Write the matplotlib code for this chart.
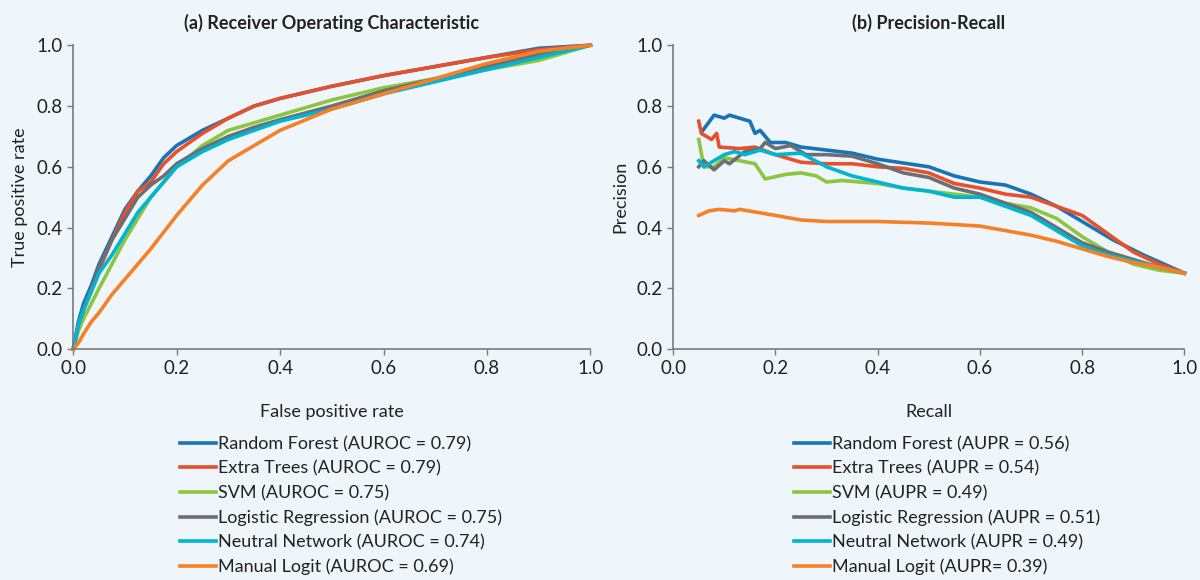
import matplotlib.pyplot as plt

plt.rcParams['font.family'] = ['Lato', 'DejaVu Sans']

BG = '#eef5fb'
AXIS = '#7a7a7a'

names = ['Random Forest', 'Extra Trees', 'SVM', 'Logistic Regression',
         'Neutral Network', 'Manual Logit']
colors = ['#1a73b5', '#e8502b', '#8cc63f', '#6d6e71', '#00b5d1', '#f58025']
auroc = ['0.79', '0.79', '0.75', '0.75', '0.74', '0.69']
aupr = ['0.56', '0.54', '0.49', '0.51', '0.49', '0.39']

# ROC curves (false positive rate grid, true positive rate per model)
fpr = [0.0, 0.01, 0.02, 0.035, 0.05, 0.075, 0.1, 0.125, 0.15, 0.175, 0.2, 0.25, 0.3, 0.35, 0.4, 0.5, 0.6, 0.7, 0.8, 0.9, 1.0]
tpr_rf = [0.0, 0.09, 0.15, 0.21, 0.28, 0.37, 0.46, 0.52, 0.57, 0.63, 0.67, 0.72, 0.76, 0.80, 0.825, 0.865, 0.90, 0.93, 0.96, 0.99, 1.0]
tpr_et = [0.0, 0.07, 0.13, 0.19, 0.26, 0.36, 0.45, 0.52, 0.55, 0.61, 0.65, 0.71, 0.76, 0.80, 0.825, 0.865, 0.90, 0.93, 0.96, 0.985, 1.0]
tpr_svm = [0.0, 0.06, 0.10, 0.15, 0.20, 0.28, 0.36, 0.43, 0.50, 0.55, 0.60, 0.67, 0.72, 0.745, 0.77, 0.82, 0.86, 0.89, 0.92, 0.95, 1.0]
tpr_lr = [0.0, 0.08, 0.13, 0.20, 0.27, 0.36, 0.43, 0.50, 0.54, 0.57, 0.61, 0.66, 0.70, 0.73, 0.755, 0.80, 0.85, 0.89, 0.93, 0.97, 1.0]
tpr_nn = [0.0, 0.08, 0.13, 0.19, 0.25, 0.31, 0.38, 0.45, 0.50, 0.55, 0.60, 0.65, 0.69, 0.72, 0.75, 0.79, 0.84, 0.88, 0.92, 0.96, 1.0]
tpr_ml = [0.0, 0.02, 0.05, 0.09, 0.12, 0.18, 0.23, 0.28, 0.33, 0.385, 0.44, 0.54, 0.62, 0.67, 0.72, 0.79, 0.84, 0.89, 0.94, 0.98, 1.0]

# Precision-recall curves (recall, precision per model)
rec_rf = [0.058, 0.08, 0.10, 0.11, 0.15, 0.16, 0.17, 0.19, 0.22, 0.25, 0.30, 0.35, 0.40, 0.50, 0.55, 0.60, 0.65, 0.70, 0.75, 0.80, 0.86, 0.92, 0.96, 1.0]
pre_rf = [0.72, 0.77, 0.76, 0.77, 0.75, 0.71, 0.72, 0.68, 0.68, 0.665, 0.655, 0.645, 0.625, 0.60, 0.57, 0.55, 0.54, 0.51, 0.47, 0.42, 0.36, 0.31, 0.28, 0.25]
rec_et = [0.05, 0.055, 0.075, 0.085, 0.09, 0.13, 0.16, 0.20, 0.25, 0.30, 0.35, 0.40, 0.45, 0.50, 0.55, 0.60, 0.65, 0.70, 0.75, 0.80, 0.85, 0.90, 0.95, 1.0]
pre_et = [0.75, 0.71, 0.69, 0.71, 0.665, 0.66, 0.665, 0.64, 0.615, 0.61, 0.61, 0.60, 0.595, 0.58, 0.545, 0.53, 0.51, 0.50, 0.47, 0.44, 0.38, 0.32, 0.28, 0.25]
rec_svm = [0.05, 0.06, 0.08, 0.10, 0.13, 0.16, 0.18, 0.22, 0.25, 0.28, 0.30, 0.33, 0.40, 0.45, 0.50, 0.55, 0.60, 0.65, 0.70, 0.75, 0.80, 0.85, 0.90, 0.95, 1.0]
pre_svm = [0.69, 0.60, 0.60, 0.63, 0.62, 0.61, 0.56, 0.575, 0.58, 0.57, 0.55, 0.555, 0.545, 0.53, 0.52, 0.51, 0.50, 0.48, 0.465, 0.43, 0.37, 0.32, 0.28, 0.26, 0.25]
rec_lr = [0.05, 0.06, 0.08, 0.10, 0.11, 0.14, 0.17, 0.18, 0.20, 0.23, 0.26, 0.30, 0.35, 0.40, 0.45, 0.50, 0.55, 0.60, 0.65, 0.70, 0.75, 0.80, 0.85, 0.90, 0.95, 1.0]
pre_lr = [0.60, 0.62, 0.59, 0.62, 0.61, 0.65, 0.66, 0.68, 0.66, 0.67, 0.64, 0.64, 0.635, 0.61, 0.58, 0.565, 0.53, 0.51, 0.48, 0.45, 0.40, 0.35, 0.32, 0.295, 0.27, 0.25]
rec_nn = [0.05, 0.06, 0.08, 0.10, 0.12, 0.14, 0.17, 0.20, 0.25, 0.30, 0.35, 0.40, 0.45, 0.50, 0.55, 0.60, 0.65, 0.70, 0.75, 0.80, 0.85, 0.90, 0.95, 1.0]
pre_nn = [0.62, 0.60, 0.62, 0.64, 0.65, 0.64, 0.655, 0.64, 0.645, 0.60, 0.57, 0.55, 0.53, 0.52, 0.50, 0.50, 0.47, 0.44, 0.39, 0.34, 0.31, 0.29, 0.27, 0.25]
rec_ml = [0.05, 0.07, 0.09, 0.12, 0.13, 0.20, 0.25, 0.30, 0.40, 0.50, 0.60, 0.65, 0.70, 0.75, 0.80, 0.85, 0.90, 0.95, 1.0]
pre_ml = [0.44, 0.455, 0.46, 0.455, 0.46, 0.44, 0.425, 0.42, 0.42, 0.415, 0.405, 0.39, 0.375, 0.355, 0.33, 0.305, 0.285, 0.27, 0.25]

tprs = [tpr_rf, tpr_et, tpr_svm, tpr_lr, tpr_nn, tpr_ml]
recs = [rec_rf, rec_et, rec_svm, rec_lr, rec_nn, rec_ml]
pres = [pre_rf, pre_et, pre_svm, pre_lr, pre_nn, pre_ml]

fig = plt.figure(figsize=(12, 5.8), dpi=100, facecolor=BG)
ax1 = fig.add_axes([0.061, 0.398, 0.431, 0.524])
ax2 = fig.add_axes([0.561, 0.398, 0.426, 0.524])


def style(ax, title, xlabel, ylabel):
    ax.set_facecolor(BG)
    ax.set_xlim(0, 1)
    ax.set_ylim(0, 1)
    ax.set_xticks([0, 0.2, 0.4, 0.6, 0.8, 1.0])
    ax.set_yticks([0, 0.2, 0.4, 0.6, 0.8, 1.0])
    ax.xaxis.set_major_formatter(lambda v, p: f'{v:.1f}')
    ax.yaxis.set_major_formatter(lambda v, p: f'{v:.1f}')
    for s in ['top', 'right']:
        ax.spines[s].set_visible(False)
    for s in ['left', 'bottom']:
        ax.spines[s].set_color(AXIS)
        ax.spines[s].set_linewidth(1.2)
    ax.tick_params(colors=AXIS, labelcolor='#222222', labelsize=13.5, length=4, width=1)
    ax.set_title(title, fontsize=13, fontweight='bold', color='#222222', pad=12)
    ax.set_xlabel(xlabel, fontsize=13, color='#222222', labelpad=20)
    ax.set_ylabel(ylabel, fontsize=13, color='#222222', labelpad=6)


for i in range(len(names)):
    ax1.plot(fpr, tprs[i], color=colors[i], lw=2.6, clip_on=False,
             label=f'{names[i]} (AUROC = {auroc[i]})')
    sep = '=' if i == 5 else ' ='
    ax2.plot(recs[i], pres[i], color=colors[i], lw=2.6, clip_on=False,
             label=f'{names[i]} (AUPR{sep} {aupr[i]})')

style(ax1, '(a) Receiver Operating Characteristic', 'False positive rate', 'True positive rate')
style(ax2, '(b) Precision-Recall', 'Recall', 'Precision')

for ax, xa in ((ax1, 0.518), (ax2, 0.535)):
    leg = ax.legend(loc='upper center', bbox_to_anchor=(xa, -0.262), frameon=False,
                    fontsize=13, handlelength=2.0, handletextpad=0.1,
                    labelspacing=0.46, borderaxespad=0)
    for t in leg.get_texts():
        t.set_color('#222222')

fig.savefig('out.png', dpi=100, facecolor=BG)
